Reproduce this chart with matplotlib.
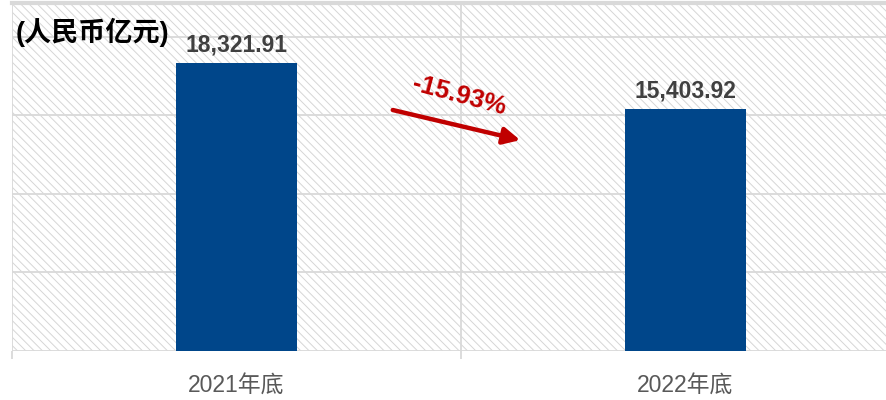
import matplotlib
matplotlib.use("Agg")
import matplotlib.pyplot as plt
from matplotlib.patches import Rectangle
import numpy as np

plt.rcParams['font.family'] = ['Liberation Sans', 'Noto Sans CJK SC', 'DejaVu Sans']
plt.rcParams['hatch.linewidth'] = 0.7

categories = ['2021年底', '2022年底']
values = [18321.91, 15403.92]
value_labels = ['18,321.91', '15,403.92']
change_label = '-15.93%'
unit_label = '(人民币亿元)'
y_ticks = [0, 5000, 10000, 15000, 20000]

W, H = 887, 400
fig = plt.figure(figsize=(W / 100, H / 100), dpi=100)
ax_left, ax_right, ax_bottom, ax_top = 12, 910, 351, 3
ax = fig.add_axes([ax_left / W, (H - ax_bottom) / H, (ax_right - ax_left) / W, (ax_bottom - ax_top) / H])

# hatched background
bg = Rectangle((0, 0), 1, 1, transform=ax.transAxes, facecolor='white',
               edgecolor='#d6d6d6', hatch='\\\\\\\\', linewidth=0, zorder=0)
ax.add_patch(bg)

x = np.arange(len(categories))
ax.set_xlim(-0.5, len(categories) - 0.5)
ax.set_ylim(0, 22140)

# gridlines
for yv in y_ticks:
    ax.axhline(yv, color='#d9d9d9', lw=1.3, zorder=1)
for xv in np.arange(-0.5, len(categories), 1.0):
    ax.axvline(xv, color='#d9d9d9', lw=1.3, zorder=1)

bars = ax.bar(x, values, width=0.27, color='#00468A', zorder=3)

for xi, v, lab in zip(x, values, value_labels):
    ax.annotate(lab, (xi, v), xytext=(0, 8), textcoords='offset points',
                ha='center', va='baseline', fontsize=16.5, fontweight='bold',
                color='#404040', zorder=4)

# spines
for s in ['left', 'right', 'bottom']:
    ax.spines[s].set_visible(False)
ax.spines['top'].set_color('#d9d9d9')
ax.spines['top'].set_linewidth(3)

ax.set_yticks([])
ax.set_xticks(x)
ax.set_xticklabels(categories, fontsize=16.5, color='#595959')
ax.tick_params(axis='x', which='major', length=0, pad=17)
ax.set_xticks(np.arange(-0.5, len(categories), 1.0), minor=True)
ax.tick_params(axis='x', which='minor', length=5.5, width=1.3, color='#d9d9d9')

# arrow and change text
ax.annotate('', xy=(0.566, 0.606), xytext=(0.424, 0.6925), xycoords='axes fraction',
            textcoords='axes fraction',
            arrowprops=dict(arrowstyle='-|>,head_length=1.0,head_width=0.5',
                            color='#C00000', lw=3.2, shrinkA=0, shrinkB=0), zorder=5)
ax.text(0.4975, 0.733, change_label, transform=ax.transAxes, rotation=-15,
        rotation_mode='anchor', ha='center', va='center', fontsize=18.5,
        fontweight='bold', color='#C00000', zorder=5)

fig.text(16 / W, (H - 32) / H, unit_label, fontsize=19.5, fontweight='bold',
         color='black', ha='left', va='center',
         family=['Liberation Sans', 'Noto Sans CJK SC'])

fig.savefig('out.png', dpi=100)
